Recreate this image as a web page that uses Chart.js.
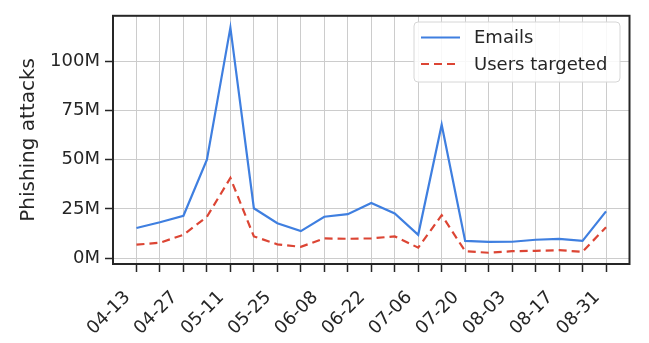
<!DOCTYPE html>
<html>
<head>
<meta charset="utf-8">
<script src="https://cdn.jsdelivr.net/npm/chart.js@4.4.1/dist/chart.umd.min.js"></script>
<style>
  html, body { margin: 0; padding: 0; background: #fff; }
  #wrap { width: 649px; height: 343px; }
</style>
</head>
<body>
<div id="wrap"><canvas id="myChart"></canvas></div>
<script>
// weekly buckets, label shown every 2 weeks
var weeks = ['04-13','04-20','04-27','05-04','05-11','05-18','05-25','06-01','06-08','06-15','06-22',
             '06-29','07-06','07-13','07-20','07-27','08-03','08-10','08-17','08-24','08-31'];
var emails = [15.3, 18.2, 21.5, 50, 117, 25.3, 17.7, 13.7, 21, 22.3, 28,
              22.7, 11.8, 67.7, 8.7, 8.2, 8.3, 9.3, 9.8, 8.7, 23.7];
var usersTargeted = [6.8, 7.8, 11.8, 21, 40.7, 11, 7, 5.7, 10, 9.8, 10,
                     11, 5.3, 21.8, 3.5, 2.7, 3.5, 3.7, 4, 3.2, 15.7];
var yTicks = [0, 25, 50, 75, 100];

var blue = '#3f7fe0';
var red = '#dc4534';
var ink = '#262626';
var font = 'DejaVu Sans';

function pts(arr){
    return arr.map((v,i)=>({x: i, y: v*1e6}));
}

// frame + legend, matplotlib style
var extras = {
    id: 'extras',
    afterDraw(chart){
        var ctx = chart.ctx;
        var a = chart.chartArea;
        ctx.save();
        ctx.strokeStyle = ink;
        ctx.lineWidth = 2;
        ctx.strokeRect(a.left, a.top, a.right - a.left, a.bottom - a.top);

        // legend box
        var bx = 414, by = 22, bw = 206, bh = 60;
        ctx.fillStyle = 'rgba(255,255,255,0.85)';
        ctx.strokeStyle = '#d6d6d6';
        ctx.lineWidth = 1;
        ctx.beginPath();
        ctx.roundRect(bx, by, bw, bh, 4);
        ctx.fill();
        ctx.stroke();

        var items = [
            {label: 'Emails', color: blue, dash: [], y: 37.5},
            {label: 'Users targeted', color: red, dash: [8,5], y: 64}
        ];
        ctx.font = '18px "' + font + '"';
        ctx.textBaseline = 'middle';
        items.forEach(it=>{
            ctx.strokeStyle = it.color;
            ctx.lineWidth = 2.2;
            ctx.setLineDash(it.dash);
            ctx.beginPath();
            ctx.moveTo(421, it.y);
            ctx.lineTo(460, it.y);
            ctx.stroke();
            ctx.setLineDash([]);
            ctx.fillStyle = ink;
            ctx.fillText(it.label, 474, it.y + 1);
        });
        ctx.restore();
    }
};

var ctx = document.getElementById('myChart').getContext('2d');
new Chart(ctx, {
    type: 'line',
    data: {
        datasets: [{
            label: 'Emails',
            data: pts(emails),
            borderColor: blue,
            borderWidth: 2.2,
            pointRadius: 0,
            tension: 0,
            fill: false
        }, {
            label: 'Users targeted',
            data: pts(usersTargeted),
            borderColor: red,
            borderWidth: 2.2,
            borderDash: [8,5],
            pointRadius: 0,
            tension: 0,
            fill: false
        }]
    },
    options: {
        responsive: true,
        maintainAspectRatio: false,
        animation: false,
        layout: { padding: { left: 0, top: 12, right: 19.5, bottom: 0 } },
        plugins: {
            legend: { display: false },
            tooltip: { enabled: false }
        },
        scales: {
            x: {
                type: 'linear',
                min: -1,
                max: 21,
                afterBuildTicks: s => { s.ticks = weeks.map((w,i)=>({value: i})); },
                afterFit: s => { s.height = 79; },
                grid: { color: '#cccccc', lineWidth: 1, tickColor: ink, tickLength: 8, tickWidth: 1.5 },
                border: { color: ink, width: 2 },
                ticks: {
                    autoSkip: false,
                    maxRotation: 45,
                    minRotation: 45,
                    padding: 15,
                    labelOffset: -9,
                    color: ink,
                    font: { family: font, size: 18 },
                    callback: v => (v % 2 === 0 ? weeks[v] : '')
                }
            },
            y: {
                min: -3e6,
                max: 123e6,
                afterBuildTicks: s => { s.ticks = yTicks.map(v=>({value: v*1e6})); },
                afterFit: s => { s.width = 113; },
                grid: { color: '#cccccc', lineWidth: 1, tickColor: ink, tickLength: 8, tickWidth: 1.5 },
                border: { color: ink, width: 2 },
                title: {
                    display: true,
                    text: 'Phishing attacks',
                    color: ink,
                    font: { family: font, size: 20 },
                    padding: { top: 17, bottom: 0 }
                },
                ticks: {
                    color: ink,
                    padding: 5,
                    font: { family: font, size: 18 },
                    callback: v => (v / 1e6) + 'M'
                }
            }
        }
    },
    plugins: [extras]
});
</script>
</body>
</html>
